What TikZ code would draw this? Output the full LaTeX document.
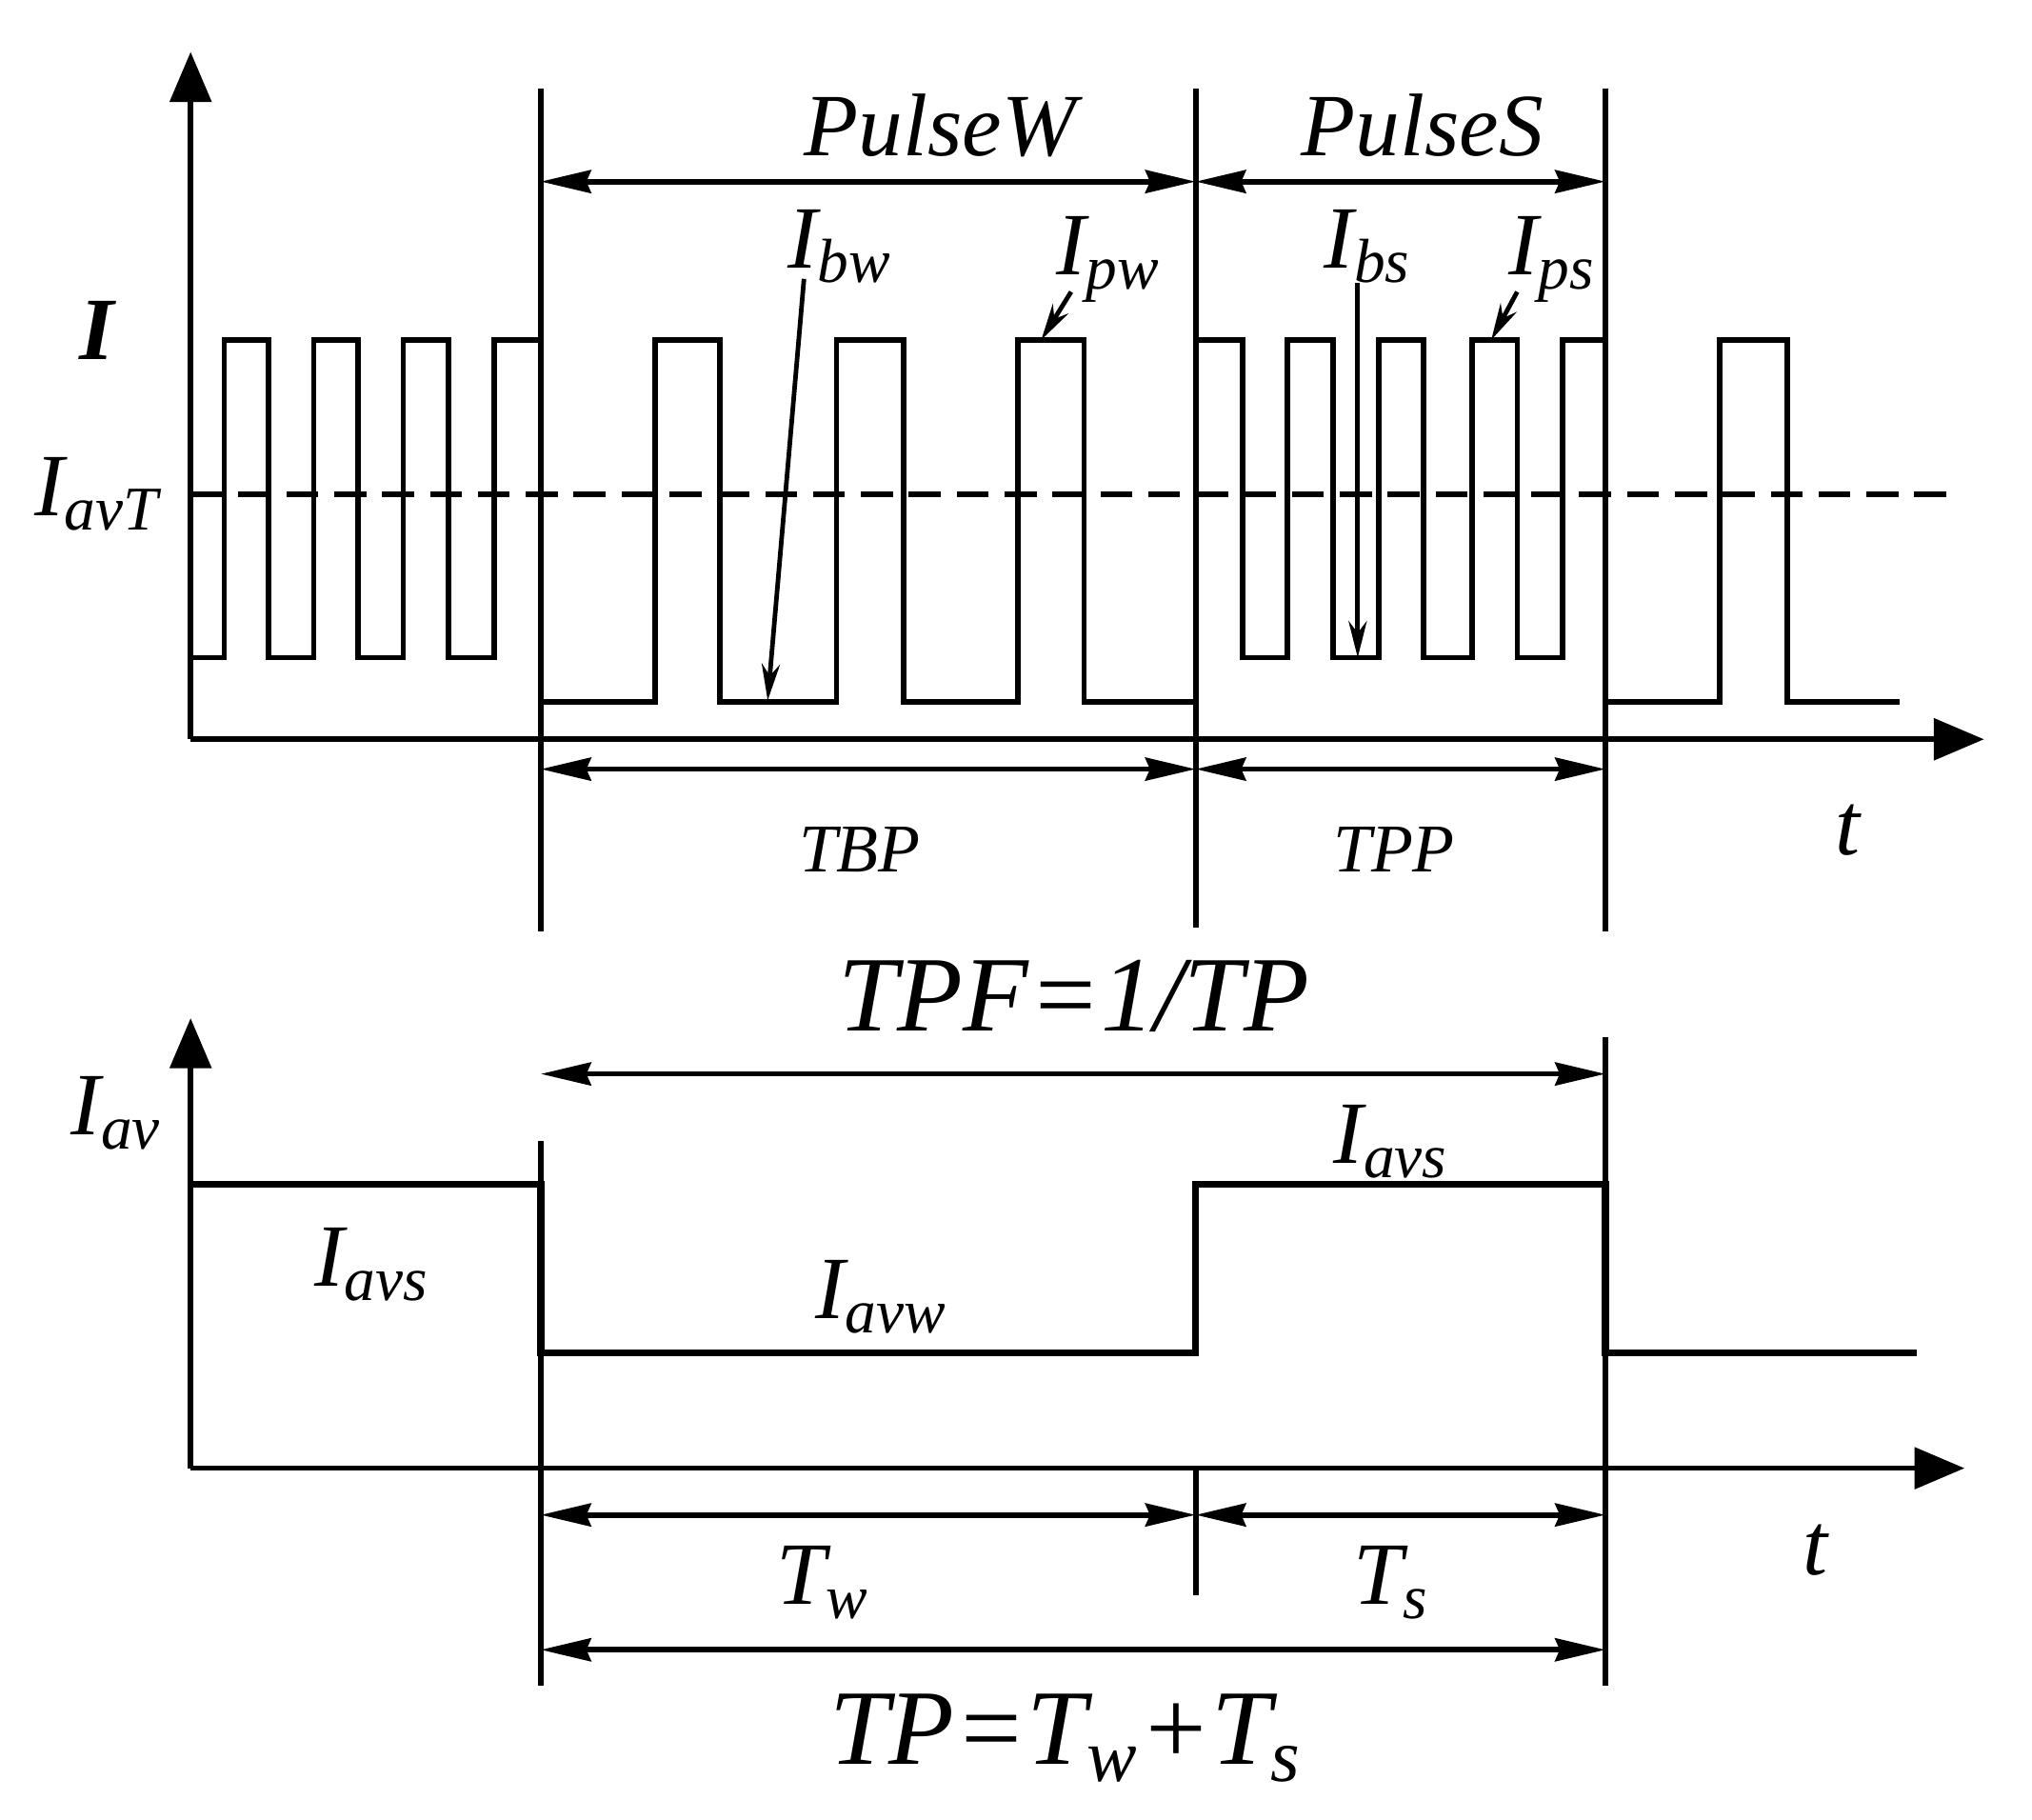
\documentclass[tikz,border=0pt]{standalone}
\usepackage{fontspec}
\setmainfont{Liberation Serif}
\usetikzlibrary{arrows.meta}
\begin{document}
\begin{tikzpicture}[x=0.01cm,y=-0.01cm,line width=1.2pt,
 axis/.style={-{Triangle[length=11pt,width=9pt]}},
 dim/.style={{Stealth[length=11pt,width=5pt,inset=1pt]}-{Stealth[length=11pt,width=5pt,inset=1pt]}},
 lead/.style={-{Stealth[length=8pt,width=4pt]},line width=1pt},
 lab/.style={font=\fontsize{19.5}{22}\selectfont\itshape},
 big/.style={font=\fontsize{23.5}{26}\selectfont\itshape},
 sm/.style={font=\fontsize{15}{17}\selectfont\itshape}]
\useasboundingbox (0,0) rectangle (1567,1403);
% top axes
\coordinate (o1) at (147,570);
\draw[axis] (o1) -- (147,40);
\draw[axis] (o1) -- (1530,570);
\foreach \x/\a/\b in {417/68/718,922/68/715,1238/68/718}
  \draw (\x,\a) -- (\x,\b);
\draw[dim] (417,140) -- (922,140);
\draw[dim] (922,140) -- (1238,140);
\node[lab] (pw) at (725,97) {PulseW};
\node[lab] (ps) at (1097,97) {PulseS};
% waveform
\draw (147,507) -- (173,507) -- (173,262) -- (207,262) -- (207,507) -- (242,507) -- (242,262) -- (276,262) -- (276,507) -- (311,507) -- (311,262) -- (346,262) -- (346,507) -- (381,507) -- (381,262) -- (417,262) -- (417,541)
 -- (505,541) -- (505,262) -- (555,262) -- (555,541) -- (645,541) -- (645,262) -- (697,262) -- (697,541) -- (785,541) -- (785,262) -- (836,262) -- (836,541) -- (922,541) -- (922,262)
 -- (958,262) -- (958,507) -- (993,507) -- (993,262) -- (1028,262) -- (1028,507) -- (1063,507) -- (1063,262) -- (1098,262) -- (1098,507) -- (1135,507) -- (1135,262) -- (1170,262) -- (1170,507) -- (1205,507) -- (1205,262) -- (1238,262) -- (1238,541)
 -- (1326,541) -- (1326,262) -- (1378,262) -- (1378,541) -- (1465,541);
\draw[dash pattern=on 7pt off 3.5pt] (147,381) -- (1505,381);
\node[lab,font=\fontsize{19.5}{22}\selectfont\bfseries\itshape] (i) at (75,255) {I};
\node[lab] (iavt) at (75,381) {I\textsubscript{avT}};
\node[lab] (ibw) at (648,190) {I\textsubscript{bw}};
\node[lab] (ipw) at (855,200) {I\textsubscript{pw}};
\node[lab] (ibs) at (1055,190) {I\textsubscript{bs}};
\node[lab] (ips) at (1197,200) {I\textsubscript{ps}};
\coordinate (ibwe) at (592,540);
\coordinate (ipwe) at (803,262);
\coordinate (ibse) at (1047,507);
\coordinate (ipse) at (1150,262);
\draw[lead] (620,215) -- (ibwe);
\draw[lead] (826,225) -- (ipwe);
\draw[lead] (1047,218) -- (ibse);
\draw[lead] (1170,225) -- (ipse);
\draw[dim] (417,593) -- (922,593);
\draw[dim] (922,593) -- (1238,593);
\node[sm] (tbp) at (663,655) {TBP};
\node[sm] (tpp) at (1075,655) {TPP};
\node[lab] (t1) at (1425,640) {t};
\node[big] (tpf) at (828,768) {TPF=1/TP};
% bottom
\coordinate (o2) at (147,1132);
\draw[axis] (o2) -- (147,785);
\draw[axis] (o2) -- (1515,1132);
\draw (417,880) -- (417,1300);
\draw (922,1132) -- (922,1230);
\draw (1238,800) -- (1238,1300);
\draw[dim] (417,828) -- (1238,828);
\draw[line width=1.6pt] (147,913) -- (417,913) -- (417,1043) -- (922,1043) -- (922,913) -- (1238,913) -- (1238,1043) -- (1478,1043);
\node[lab] (iav) at (90,858) {I\textsubscript{av}};
\node[lab] (iavs1) at (287,975) {I\textsubscript{avs}};
\node[lab] (iavw) at (680,1000) {I\textsubscript{avw}};
\node[lab] (iavs2) at (1073,880) {I\textsubscript{avs}};
\draw[dim] (417,1168) -- (922,1168);
\draw[dim] (922,1168) -- (1238,1168);
\node[lab] (tw) at (635,1220) {T\textsubscript{w}};
\node[lab] (ts) at (1073,1220) {T\textsubscript{s}};
\draw[dim] (417,1272) -- (1238,1272);
\node[lab] (t2) at (1400,1195) {t};
\node[big] (tp) at (822,1340) {TP=T\textsubscript{w}+T\textsubscript{s}};
\end{tikzpicture}
\end{document}
